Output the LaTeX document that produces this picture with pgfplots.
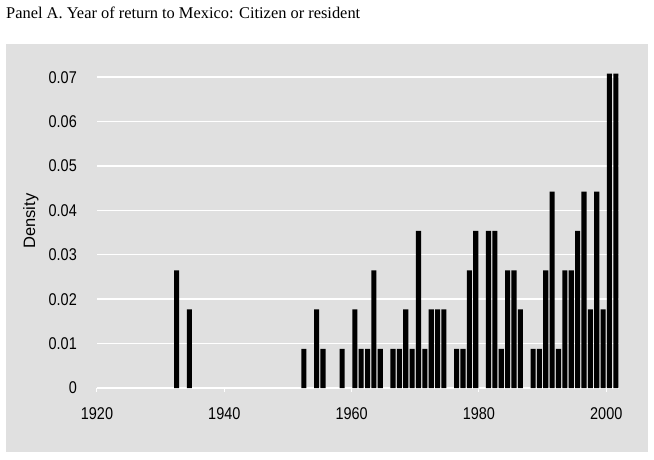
\documentclass[border=0pt]{standalone}
\usepackage{fontspec}
\setmainfont{Liberation Serif}
\newfontfamily\arial{Liberation Sans}
\newfontfamily\arialn[FakeStretch=0.85]{Liberation Sans}
\usepackage{pgfplots}
\pgfplotsset{compat=1.18}
\definecolor{panelgray}{RGB}{224,224,224}
\begin{document}
\begin{tikzpicture}
\useasboundingbox (-97pt,-71pt) rectangle (557pt,388pt);
\fill[panelgray] (-91pt,-64pt) rectangle (551pt,344pt);
\node[anchor=base west, inner sep=0pt, font=\fontsize{16.4}{19}\selectfont] at (-91pt,369.5pt) {Panel A. Year of return to Mexico: Citizen or resident};
\begin{axis}[
  at={(0pt,0pt)}, anchor=south west,
  scale only axis,
  width=522pt, height=314.4pt,
  xmin=1920, xmax=2002,
  ymin=0, ymax=0.0708,
  enlargelimits=false,
  axis line style={draw=none},
  ymajorgrids=true,
  grid style={white, line width=1.4pt},
  xtick={1920,1940,1960,1980,2000},
  ytick={0,0.01,0.02,0.03,0.04,0.05,0.06,0.07},
  xtick pos=bottom,
  tick align=outside,
  major tick length=4pt,
  xtick style={white, line width=1pt},
  ytick style={draw=none},
  scaled y ticks=false,
  /pgf/number format/assume math mode=true,
  tick label style={font=\arialn\fontsize{17}{20}\selectfont},
  xticklabel style={/pgf/number format/1000 sep={}, anchor=north, inner sep=0pt, yshift=-15.5pt},
  yticklabel style={/pgf/number format/fixed, /pgf/number format/precision=2, anchor=east, inner sep=0pt, xshift=-16pt},
  ylabel={Density},
  every axis y label/.style={at={(axis description cs:-0.1265,0.531)}, rotate=90, anchor=center, font=\arial\fontsize{16.5}{19}\selectfont},
  ybar, bar width=0.8, bar shift=0pt,
]
\addplot[fill=black, draw=none] coordinates {
(1932.5,0.0265) (1934.5,0.0177)
(1952.5,0.0088) (1954.5,0.0177) (1955.5,0.0088) (1958.5,0.0088)
(1960.5,0.0177) (1961.5,0.0088) (1962.5,0.0088) (1963.5,0.0265) (1964.5,0.0088)
(1966.5,0.0088) (1967.5,0.0088) (1968.5,0.0177) (1969.5,0.0088) (1970.5,0.0354)
(1971.5,0.0088) (1972.5,0.0177) (1973.5,0.0177) (1974.5,0.0177)
(1976.5,0.0088) (1977.5,0.0088) (1978.5,0.0265) (1979.5,0.0354)
(1981.5,0.0354) (1982.5,0.0354) (1983.5,0.0088) (1984.5,0.0265) (1985.5,0.0265) (1986.5,0.0177)
(1988.5,0.0088) (1989.5,0.0088) (1990.5,0.0265) (1991.5,0.0442) (1992.5,0.0088)
(1993.5,0.0265) (1994.5,0.0265) (1995.5,0.0354) (1996.5,0.0442) (1997.5,0.0177)
(1998.5,0.0442) (1999.5,0.0177) (2000.5,0.0708) (2001.5,0.0708)
};
\end{axis}
\end{tikzpicture}
\end{document}
